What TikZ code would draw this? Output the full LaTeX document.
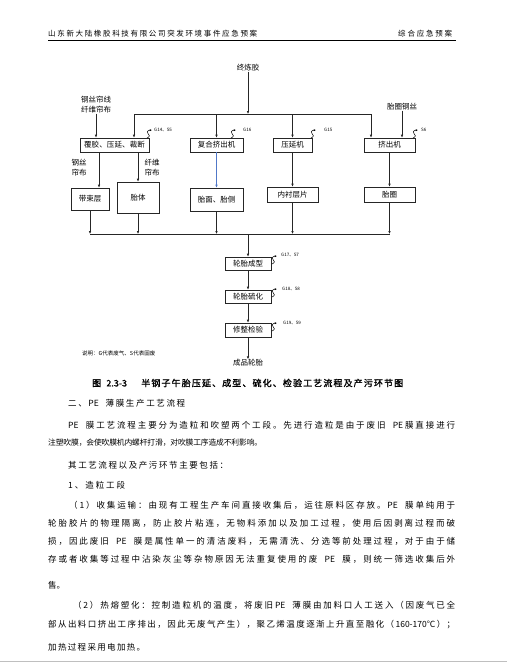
\documentclass[tikz,border=0pt]{standalone}
\usepackage{fontspec}
\setmainfont{Noto Sans CJK SC}
\newfontfamily\cjkb[FakeBold=1.5]{Noto Sans CJK SC}
\usetikzlibrary{arrows.meta}
\ExplSyntaxOn
\cs_new_protected:Npn \spreadtext #1 { \tl_map_inline:nn {#1} { ##1 \hskip 0pt plus 1fil minus 1.5pt\relax } \unskip }
\ExplSyntaxOff
\newcommand\fitline[2]{\hbox to #1pt{\spreadtext{#2}}}
\newcommand\wsp{\kern3.5pt}
\begin{document}
\begin{tikzpicture}[x=1pt,y=-1pt,
  box/.style={draw=black!85, line width=0.6pt, inner sep=0pt, font=\fontsize{7.5}{9}\selectfont},
  arr/.style={draw=black!85, line width=0.6pt, -{Latex[length=3pt,width=2.6pt]}},
  txt/.style={inner sep=0pt, font=\fontsize{7.5}{10}\selectfont, align=center},
  lab/.style={inner sep=0pt, anchor=west, font=\fontsize{4.5}{5}\selectfont},
  body/.style={inner sep=0pt, anchor=west, font=\fontsize{8.5}{10}\selectfont},
  head/.style={inner sep=0pt, anchor=west, font=\fontsize{7.5}{9}\selectfont},
  emis/.pic={\draw[line width=0.5pt,-{Latex[length=2.2pt,width=2pt]}] (0,0) .. controls (3,-1) and (3,-3.5) .. (1,-4.5) .. controls (-0.5,-5.5) and (0,-7.5) .. (5,-8);}
]
\useasboundingbox (0,0) rectangle (507,662);
\fill[white] (0,0) rectangle (507,662);

% header
\node[head] (h1) at (48,34) {\fitline{209}{山东新大陆橡胶科技有限公司突发环境事件应急预案}};
\node[head] (h2) at (398,34) {\fitline{54}{综合应急预案}};
\draw[line width=0.8pt] (48,40) -- (456,40);

% sources
\node[txt] (zl) at (248,68) {终炼胶};
\node[txt] (s1) at (96,105) {钢丝帘线\\纤维帘布};
\node[txt] (s2) at (402,107) {胎圈钢丝};

% first row boxes
\node[box, minimum width=69pt, minimum height=14pt] (fj) at (114.5,145) {\fitline{61}{覆胶、压延、裁断}};
\node[box, minimum width=53pt, minimum height=14pt] (fh) at (216.5,145) {复合挤出机};
\node[box, minimum width=39pt, minimum height=14pt] (yy) at (292.5,145) {压延机};
\node[box, minimum width=51pt, minimum height=14pt] (jc) at (389.5,145) {挤出机};

% second row boxes
\node[box, minimum width=38pt, minimum height=22pt] (dsc) at (90,199) {带束层};
\node[box, minimum width=42pt, minimum height=31pt] (tt) at (138,197.5) {胎体};
\node[box, minimum width=53pt, minimum height=23pt] (tm) at (216.5,199.5) {胎面、胎侧};
\node[box, minimum width=51pt, minimum height=15pt] (nc) at (292.5,194.5) {内衬层片};
\node[box, minimum width=51pt, minimum height=15pt] (tq) at (389.5,194.5) {胎圈};

\node[txt] (l1) at (79,168) {钢丝\\帘布};
\node[txt] (l2) at (152,168) {纤维\\帘布};

% lower chain
\node[box, minimum width=46pt, minimum height=13pt] (cx) at (248,263.5) {轮胎成型};
\node[box, minimum width=46pt, minimum height=13pt] (lh) at (248,296.5) {轮胎硫化};
\node[box, minimum width=46pt, minimum height=14pt] (xz) at (248,330) {修整检验};
\node[txt] (cp) at (248,363) {成品轮胎};

% coordinates
\coordinate (t0) at (248,114);
\coordinate (tl) at (134,114);
\coordinate (tr) at (371,114);
\coordinate (c1) at (99,0);
\coordinate (bl) at (90,234);
\coordinate (br) at (389.5,234);
\coordinate (bj) at (248,234);

% top distribution
\draw[arr] (zl.south) -- (t0);
\draw[line width=0.6pt, black!85] (tl) -- (tr);
\draw[arr] (tl) -- (tl |- fj.north);
\draw[arr] (fh.north |- tl) -- (fh.north);
\draw[arr] (yy.north |- tl) -- (yy.north);
\draw[arr] (tr) -- (tr |- jc.north);
\draw[arr] (s1.south) -- (s1.south |- fj.north);
\draw[arr] (s2.south) -- (s2.south |- jc.north);

% to second row
\draw[arr] (c1 |- fj.south) -- (c1 |- dsc.north);
\draw[arr] (tt.north |- fj.south) -- (tt.north);
\draw[line width=0.6pt, -{Latex[length=3pt,width=2.6pt]}, draw={rgb,255:red,80;green,120;blue,200}] (fh.south) -- (tm.north);
\draw[arr] (yy.south) -- (nc.north);
\draw[arr] (jc.south) -- (tq.north);

% collect
\draw[arr] (dsc.south) -- (dsc.south |- bl);
\draw[arr] (tt.south) -- (tt.south |- bl);
\draw[arr] (tm.south) -- (tm.south |- bl);
\draw[arr] (nc.south) -- (nc.south |- bl);
\draw[arr] (tq.south) -- (tq.south |- bl);
\draw[line width=0.6pt, black!85] (bl) -- (br);
\draw[arr] (bj) -- (cx.north);
\draw[arr] (cx) -- (lh);
\draw[arr] (lh) -- (xz);
\draw[arr] (xz) -- (cp);

% emissions
\pic at (147,138) {emis};
\node[lab] (e1) at (154,130) {G14、S5};
\pic at (231,138) {emis};
\node[lab] (e2) at (243,130) {G16};
\pic at (311,138) {emis};
\node[lab] (e3) at (324,130) {G15};
\pic at (413,138) {emis};
\node[lab] (e4) at (421,130) {S6};
\pic at (272,264) {emis};
\node[lab] (e5) at (281,255) {G17、S7};
\pic at (272,297) {emis};
\node[lab] (e6) at (282,289) {G18、S8};
\pic at (272,331) {emis};
\node[lab] (e7) at (283,323) {G19、S9};

\node[inner sep=0pt, anchor=west, font=\fontsize{5.5}{6}\selectfont] (note) at (82,353) {说明：G代表废气、S代表固废};

% caption
\node[inner sep=0pt, anchor=west, font=\fontsize{9}{10}\cjkb] (cap) at (92,383) {\fitline{311}{图{\kern3pt}{2.3-3}{\kern12pt}半钢子午胎压延、成型、硫化、检验工艺流程及产污环节图}};

% body text
\node[body] (b1) at (68,403) {\fitline{117}{二、{PE}\wsp 薄膜生产工艺流程}};
\node[body] (b2) at (68,425) {\fitline{387}{{PE}\wsp 膜工艺流程主要分为造粒和吹塑两个工段。先进行造粒是由于废旧\wsp{PE}膜直接进行}};
\node[body, font=\fontsize{7.8}{10}\selectfont] (b3) at (48,443) {\fitline{214}{注塑吹膜，会使吹膜机内螺杆打滑，对吹膜工序造成不利影响。}};
\node[body] (b4) at (68,465) {\fitline{160}{其工艺流程以及产污环节主要包括：}};
\node[body] (b5) at (68,485) {\fitline{57}{1、造粒工段}};
\node[body] (b6) at (69,505) {\fitline{386}{（1）收集运输：由现有工程生产车间直接收集后，运往原料区存放。{PE}\wsp 膜单纯用于}};
\node[body] (b7) at (48,523) {\fitline{407}{轮胎胶片的物理隔离，防止胶片粘连，无物料添加以及加工过程，使用后因剥离过程而破}};
\node[body] (b8) at (48,541) {\fitline{407}{损，因此废旧\wsp{PE}\wsp 膜是属性单一的清洁废料，无需清洗、分选等前处理过程，对于由于储}};
\node[body] (b9) at (48,559) {\fitline{407}{存或者收集等过程中沾染灰尘等杂物原因无法重复使用的废\wsp{PE}\wsp 膜，则统一筛选收集后外}};
\node[body] (b10) at (48,585) {售。};
\node[body] (b11) at (73,605) {\fitline{382}{（2）热熔塑化：控制造粒机的温度，将废旧{PE}\wsp 薄膜由加料口人工送入（因废气已全}};
\node[body] (b12) at (48,625) {\fitline{407}{部从出料口挤出工序排出，因此无废气产生），聚乙烯温度逐渐上升直至融化（{160-170℃}）；}};
\node[body] (b13) at (48,647) {\fitline{97}{加热过程采用电加热。}};

\draw[black!25, line width=1pt] (0,661) -- (507,661);
\end{tikzpicture}
\end{document}
